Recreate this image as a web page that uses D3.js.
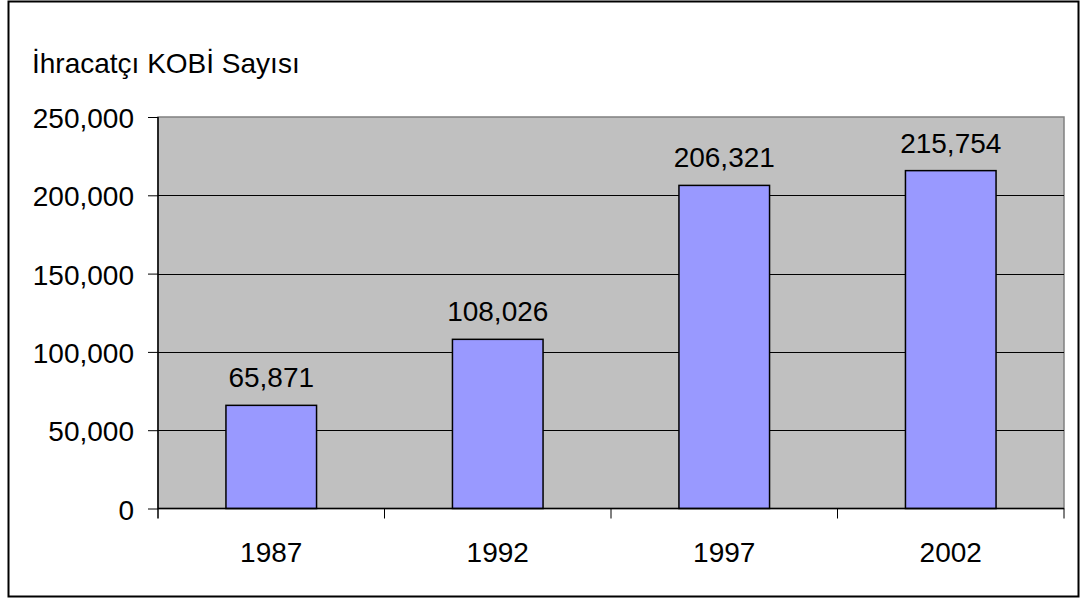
<!DOCTYPE html>
<html>
<head>
<meta charset="utf-8">
<script src="https://cdn.jsdelivr.net/npm/d3@7"></script>
<style>
  html, body { margin: 0; padding: 0; background: #fff; }
  svg { display: block; font-family: "Liberation Sans", Arial, sans-serif; }
</style>
</head>
<body>
<svg id="chart" width="1085" height="600"></svg>
<script>
// Exporting SMEs by year
const years = ["1987", "1992", "1997", "2002"];
const counts = [65871, 108026, 206321, 215754];
const yTicks = [0, 50000, 100000, 150000, 200000, 250000];
const title = "İhracatçı KOBİ Sayısı";

const svg = d3.select("#chart");
const plot = { left: 158, top: 117, right: 1064, bottom: 508.5 };
const fmt = d3.format(",");
const fontSize = 28;

// outer frame
svg.append("rect")
  .attr("x", 8.5).attr("y", 1.5).attr("width", 1070).attr("height", 595)
  .attr("fill", "#fff").attr("stroke", "#000").attr("stroke-width", 2);

const x = d3.scaleBand().domain(years).range([plot.left, plot.right]).padding(0);
const y = d3.scaleLinear().domain([0, 250000]).range([plot.bottom, plot.top]);

// plot background
svg.append("rect")
  .attr("x", plot.left).attr("y", plot.top)
  .attr("width", plot.right - plot.left).attr("height", plot.bottom - plot.top)
  .attr("fill", "#c0c0c0").attr("stroke", "#808080").attr("stroke-width", 1.5);

// horizontal gridlines
svg.append("g").selectAll("line")
  .data(yTicks.filter(d => d > 0 && d < 250000))
  .join("line")
  .attr("x1", plot.left).attr("x2", plot.right)
  .attr("y1", d => Math.round(y(d)) + 0.5).attr("y2", d => Math.round(y(d)) + 0.5)
  .attr("stroke", "#000").attr("stroke-width", 1);

// bars
const barFrac = 0.4;
svg.append("g").selectAll("rect")
  .data(years.map((yr, i) => ({ yr, v: counts[i] })))
  .join("rect")
  .attr("x", d => x(d.yr) + x.bandwidth() * (1 - barFrac) / 2)
  .attr("width", x.bandwidth() * barFrac)
  .attr("y", d => y(d.v))
  .attr("height", d => y(0) - y(d.v))
  .attr("fill", "#9999ff").attr("stroke", "#000").attr("stroke-width", 1.5);

// value labels
svg.append("g").selectAll("text")
  .data(years.map((yr, i) => ({ yr, v: counts[i] })))
  .join("text")
  .attr("x", d => x(d.yr) + x.bandwidth() / 2)
  .attr("y", d => y(d.v) - 18)
  .attr("text-anchor", "middle")
  .attr("font-size", fontSize).attr("fill", "#000")
  .text(d => fmt(d.v));

// y axis
const yAxis = d3.axisLeft(y).tickValues(yTicks).tickFormat(fmt).tickSize(10).tickPadding(14);
const gy = svg.append("g").attr("transform", `translate(${plot.left},0)`).call(yAxis);
gy.select(".domain").attr("stroke", "#000").attr("stroke-width", 1.5)
  .attr("d", `M0,${plot.top}V${plot.bottom + 10}`);
gy.selectAll(".tick line").attr("stroke", "#000");
gy.selectAll(".tick text").attr("font-size", fontSize).attr("fill", "#000")
  .attr("dy", "0.38em")
  .attr("font-family", "Liberation Sans, Arial, sans-serif");

// x axis: ticks at category boundaries
const gx = svg.append("g");
gx.append("line")
  .attr("x1", plot.left).attr("x2", plot.right)
  .attr("y1", plot.bottom).attr("y2", plot.bottom)
  .attr("stroke", "#000").attr("stroke-width", 1.5);
gx.selectAll("line.tk")
  .data(years.slice(1).map(d => x(d)).concat([plot.right]))
  .join("line").attr("class", "tk")
  .attr("x1", d => d).attr("x2", d => d)
  .attr("y1", plot.bottom).attr("y2", plot.bottom + 10)
  .attr("stroke", "#000");
gx.selectAll("text")
  .data(years)
  .join("text")
  .attr("x", d => x(d) + x.bandwidth() / 2)
  .attr("y", 562)
  .attr("text-anchor", "middle")
  .attr("font-size", fontSize).attr("fill", "#000")
  .text(d => d);

// axis title
svg.append("text")
  .attr("x", 32).attr("y", 73)
  .attr("font-size", fontSize).attr("fill", "#000")
  .text(title);
</script>
</body>
</html>
